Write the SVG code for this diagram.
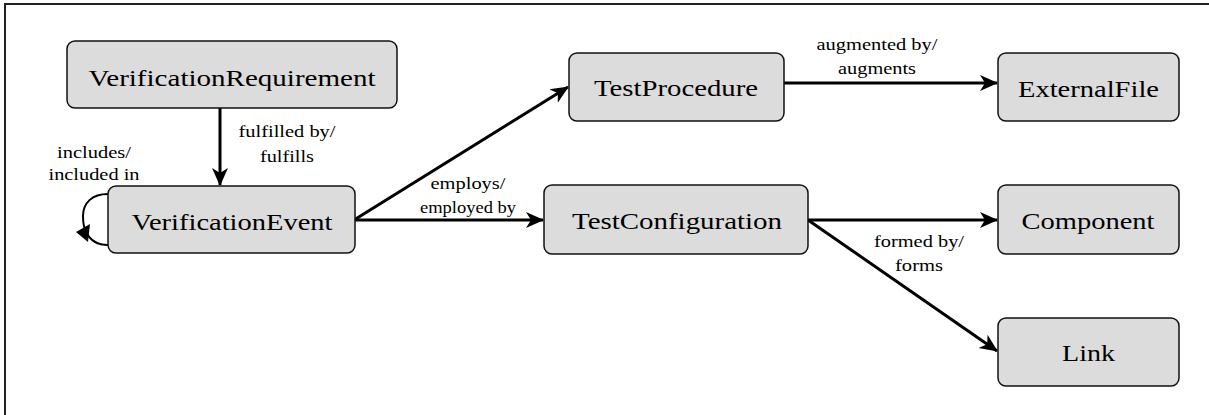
<svg xmlns="http://www.w3.org/2000/svg" width="1209" height="415" viewBox="0 0 1209 415">
<defs>
<style>
.box{fill:#dcdcdc;stroke:#111;stroke-width:1.5}
.nt{font-size:24px;fill:#000;text-anchor:middle}
.lt{font-size:17px;fill:#000;text-anchor:middle}
.edge{stroke:#000;stroke-width:3;fill:none}
.ff{font-family:"Liberation Serif",Tinos,"Times New Roman",Times,"Nimbus Roman","Nimbus Roman No9 L","Noto Serif",FreeSerif,"DejaVu Serif",serif}
</style>
<marker id="ah" markerUnits="userSpaceOnUse" markerWidth="20" markerHeight="18" refX="17" refY="8" orient="auto" viewBox="0 0 20 16">
<path d="M0,0 L18,8 L0,16 L5,8 z" fill="#000"/>
</marker>
</defs>
<rect width="1209" height="415" fill="#fff"/>
<path d="M5,415 L5,4 L1209,4" fill="none" stroke="#222" stroke-width="2"/>

<g id="connectors" class="ff">
<line class="edge" x1="220" y1="108" x2="220" y2="185" marker-end="url(#ah)"/>
<line class="edge" x1="354" y1="220" x2="568" y2="87" marker-end="url(#ah)"/>
<line class="edge" x1="354" y1="220" x2="543" y2="220" marker-end="url(#ah)"/>
<line class="edge" x1="783" y1="83" x2="997" y2="83" marker-end="url(#ah)"/>
<line class="edge" x1="808" y1="220" x2="997" y2="220" marker-end="url(#ah)"/>
<line class="edge" x1="808" y1="220" x2="997" y2="351" marker-end="url(#ah)"/>
<path d="M108,194 C92,194 83,203 83,216 C83,222 84,228 86,232 M86,232 C90,240 98,245 108,245" fill="none" stroke="#000" stroke-width="2"/>
<path d="M76,232 L90,224 L88,242 Z" fill="#000"/>
<text class="lt" x="287" y="137" textLength="97" lengthAdjust="spacingAndGlyphs">fulfilled by/</text>
<text class="lt" x="287" y="162" textLength="54" lengthAdjust="spacingAndGlyphs">fulfills</text>
<text class="lt" x="94" y="158" textLength="74" lengthAdjust="spacingAndGlyphs">includes/</text>
<text class="lt" x="94" y="180" textLength="91" lengthAdjust="spacingAndGlyphs">included in</text>
<text class="lt" x="468" y="189" textLength="75" lengthAdjust="spacingAndGlyphs">employs/</text>
<text class="lt" x="468" y="213" textLength="96" lengthAdjust="spacingAndGlyphs">employed by</text>
<text class="lt" x="877" y="50" textLength="121" lengthAdjust="spacingAndGlyphs">augmented by/</text>
<text class="lt" x="877" y="74" textLength="78" lengthAdjust="spacingAndGlyphs">augments</text>
<text class="lt" x="919" y="247" textLength="90" lengthAdjust="spacingAndGlyphs">formed by/</text>
<text class="lt" x="919" y="271" textLength="48" lengthAdjust="spacingAndGlyphs">forms</text>
</g>

<g class="ff">
<g id="VerificationRequirement">
<rect class="box" x="67" y="41" width="330" height="67" rx="8"/>
<text class="nt" x="232" y="86" textLength="287" lengthAdjust="spacingAndGlyphs">VerificationRequirement</text>
</g>
<g id="VerificationEvent">
<rect class="box" x="108" y="186" width="247" height="67" rx="8"/>
<text class="nt" x="232" y="230" textLength="201" lengthAdjust="spacingAndGlyphs">VerificationEvent</text>
</g>
<g id="TestProcedure">
<rect class="box" x="569" y="53" width="215" height="68" rx="8"/>
<text class="nt" x="676" y="96" textLength="164" lengthAdjust="spacingAndGlyphs">TestProcedure</text>
</g>
<g id="TestConfiguration">
<rect class="box" x="544" y="185" width="264" height="69" rx="8"/>
<text class="nt" x="677" y="229" textLength="210" lengthAdjust="spacingAndGlyphs">TestConfiguration</text>
</g>
<g id="ExternalFile">
<rect class="box" x="998" y="53" width="181" height="68" rx="8"/>
<text class="nt" x="1088.5" y="97" textLength="141" lengthAdjust="spacingAndGlyphs">ExternalFile</text>
</g>
<g id="Component">
<rect class="box" x="998" y="185" width="181" height="69" rx="8"/>
<text class="nt" x="1088" y="229" textLength="133" lengthAdjust="spacingAndGlyphs">Component</text>
</g>
<g id="Link">
<rect class="box" x="998" y="318" width="181" height="68" rx="8"/>
<text class="nt" x="1088.5" y="361" textLength="53" lengthAdjust="spacingAndGlyphs">Link</text>
</g>
</g>
</svg>
